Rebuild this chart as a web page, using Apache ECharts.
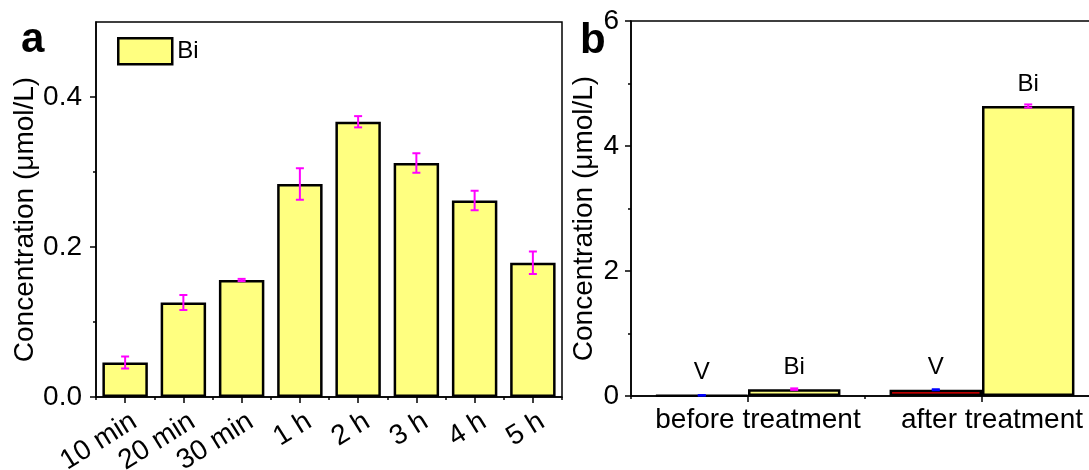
<!DOCTYPE html>
<html>
<head>
<meta charset="utf-8">
<script src="https://cdn.jsdelivr.net/npm/echarts@6/dist/echarts.min.js"></script>
<style>
  html, body { margin: 0; padding: 0; background: #fff; }
  #chart { width: 1089px; height: 470px; }
</style>
</head>
<body>
<div id="chart"></div>
<script>
// Panel a: Bi released over time
const timeLabels = ['10 min', '20 min', '30 min', '1 h', '2 h', '3 h', '4 h', '5 h'];
const biRelease = [0.046, 0.126, 0.156, 0.284, 0.367, 0.312, 0.262, 0.179];
const biReleaseErr = [0.008, 0.010, 0.0015, 0.021, 0.0075, 0.013, 0.013, 0.015];
const ticksA = [0, 0.2, 0.4];
const minorTicksA = [0.1, 0.3];

// Panel b: V and Bi before / after treatment
const stageLabels = ['before treatment', 'after treatment'];
const vConc = [0.01, 0.1];
const vConcErr = [0.005, 0.008];
const biConc = [0.11, 4.64];
const biConcErr = [0.012, 0.025];
const ticksB = [0, 2, 4, 6];
const minorTicksB = [1, 3, 5];

const FONT = '"Liberation Sans", Arial, Helvetica, sans-serif';
const YELLOW = '#ffff80';
const RED = '#ff0000';
const MAGENTA = '#ff00ff';
const BLUE = '#0000ff';
const CAT_GAP_B = 0.21;

// error bar drawn at the bar's value; slot shifts it onto one bar of a group
function errorBar(color, slot) {
  return function (params, api) {
    const i = api.value(0), v = api.value(1), e = api.value(2);
    let x = api.coord([i, v])[0];
    if (slot) {
      const band = api.size([1, 0])[0];
      const bw = band * (1 - CAT_GAP_B) / 2;
      x += slot * bw / 2;
    }
    const yTop = api.coord([i, v + e])[1];
    const yBot = api.coord([i, v - e])[1];
    const cap = 4;
    const style = { stroke: color, lineWidth: 2 };
    return {
      type: 'group',
      children: [
        { type: 'line', shape: { x1: x, y1: yTop, x2: x, y2: yBot }, style },
        { type: 'line', shape: { x1: x - cap, y1: yTop, x2: x + cap, y2: yTop }, style },
        { type: 'line', shape: { x1: x - cap, y1: yBot, x2: x + cap, y2: yBot }, style }
      ]
    };
  };
}

const axisLine = { show: true, onZero: false, lineStyle: { color: '#000', width: 1.5 } };
const labelBase = { color: '#000', fontFamily: FONT, fontSize: 28 };
const yName = 'Concentration (\u03bcmol/L)';
const barBorder = { borderColor: '#000', borderWidth: 2.5 };

const chart = echarts.init(document.getElementById('chart'), null, { renderer: 'canvas' });

chart.setOption({
  backgroundColor: '#fff',
  animation: false,
  textStyle: { fontFamily: FONT, color: '#000' },
  title: [
    { text: 'a', left: 21, top: 19, padding: 0, textStyle: { fontSize: 42, fontWeight: 'bold', color: '#000', fontFamily: FONT } },
    { text: 'b', left: 580, top: 20, padding: 0, textStyle: { fontSize: 42, fontWeight: 'bold', color: '#000', fontFamily: FONT } }
  ],
  legend: {
    data: ['Bi'],
    left: 117, top: 37, padding: 0,
    icon: 'rect', itemWidth: 54, itemHeight: 26,
    itemStyle: { color: YELLOW, borderColor: '#000', borderWidth: 2.5 },
    textStyle: { fontSize: 24, color: '#000', fontFamily: FONT },
    selectedMode: false
  },
  grid: [
    { left: 96, top: 22, width: 466, height: 375, show: true, borderColor: '#000', borderWidth: 1.5, backgroundColor: 'transparent', containLabel: false, outerBoundsMode: 'none' },
    { left: 631, top: 21, width: 468, height: 375, show: true, borderColor: '#000', borderWidth: 1.5, backgroundColor: 'transparent', containLabel: false, outerBoundsMode: 'none' }
  ],
  xAxis: [
    {
      type: 'category', gridIndex: 0, data: timeLabels, position: 'bottom',
      axisLine,
      axisTick: { show: true, alignWithLabel: true, length: 6, inside: false, lineStyle: { color: '#000', width: 1.5 } },
      axisLabel: Object.assign({ interval: 0, rotate: 32, margin: 28, padding: [0, -11, 0, 0] }, labelBase),
      splitLine: { show: false }
    },
    {
      type: 'category', gridIndex: 0, data: timeLabels, position: 'bottom',
      axisLine: { show: false },
      axisTick: { show: true, alignWithLabel: false, interval: 0, length: 3, lineStyle: { color: '#000', width: 1.5 } },
      axisLabel: { show: false },
      splitLine: { show: false }
    },
    {
      type: 'category', gridIndex: 1, data: stageLabels, position: 'bottom',
      axisLine,
      axisTick: { show: true, alignWithLabel: true, length: 6, lineStyle: { color: '#000', width: 1.5 } },
      axisLabel: Object.assign({ interval: 0, margin: 10, padding: [0, 0, 0, 20] }, labelBase),
      splitLine: { show: false }
    },
    {
      type: 'category', gridIndex: 1, data: stageLabels, position: 'bottom',
      axisLine: { show: false },
      axisTick: { show: true, alignWithLabel: false, interval: 0, length: 3, lineStyle: { color: '#000', width: 1.5 } },
      axisLabel: { show: false },
      splitLine: { show: false }
    }
  ],
  yAxis: [
    {
      type: 'value', gridIndex: 0, min: 0, max: 0.5, position: 'left',
      axisLine,
      axisTick: { show: true, length: 6, customValues: ticksA, lineStyle: { color: '#000', width: 1.5 } },
      axisLabel: Object.assign({ customValues: ticksA, margin: 14, formatter: v => v.toFixed(1) }, labelBase),
      splitLine: { show: false },
      name: yName, nameLocation: 'middle', nameGap: 57,
      nameTextStyle: { fontSize: 28, color: '#000', fontFamily: FONT, padding: [0, 20, 0, 0] }
    },
    {
      type: 'value', gridIndex: 0, min: 0, max: 0.5, position: 'left',
      axisLine: { show: false },
      axisTick: { show: true, length: 3, customValues: minorTicksA, lineStyle: { color: '#000', width: 1.5 } },
      axisLabel: { show: false },
      splitLine: { show: false }
    },
    {
      type: 'value', gridIndex: 1, min: 0, max: 6, position: 'left',
      axisLine,
      axisTick: { show: true, length: 6, customValues: ticksB, lineStyle: { color: '#000', width: 1.5 } },
      axisLabel: Object.assign({ customValues: ticksB, margin: 12, formatter: v => String(v) }, labelBase),
      splitLine: { show: false },
      name: yName, nameLocation: 'middle', nameGap: 33,
      nameTextStyle: { fontSize: 28, color: '#000', fontFamily: FONT, padding: [0, 20, 0, 0] }
    },
    {
      type: 'value', gridIndex: 1, min: 0, max: 6, position: 'left',
      axisLine: { show: false },
      axisTick: { show: true, length: 3, customValues: minorTicksB, lineStyle: { color: '#000', width: 1.5 } },
      axisLabel: { show: false },
      splitLine: { show: false }
    }
  ],
  series: [
    {
      name: 'Bi', type: 'bar', xAxisIndex: 0, yAxisIndex: 0,
      data: biRelease, barCategoryGap: '22%',
      itemStyle: Object.assign({ color: YELLOW }, barBorder),
      z: 2
    },
    {
      name: 'Bi error', type: 'custom', xAxisIndex: 0, yAxisIndex: 0,
      data: timeLabels.map((_, i) => [i, biRelease[i], biReleaseErr[i]]),
      renderItem: errorBar(MAGENTA, 0), z: 5
    },
    {
      name: 'V', type: 'bar', xAxisIndex: 2, yAxisIndex: 2,
      data: vConc, barGap: '0%', barCategoryGap: (CAT_GAP_B * 100) + '%',
      itemStyle: Object.assign({ color: RED }, barBorder),
      label: { show: true, position: 'top', distance: 10, formatter: 'V', fontSize: 24, color: '#000', fontFamily: FONT },
      z: 2
    },
    {
      name: 'Bi', type: 'bar', xAxisIndex: 2, yAxisIndex: 2,
      data: biConc, barGap: '0%', barCategoryGap: (CAT_GAP_B * 100) + '%',
      itemStyle: Object.assign({ color: YELLOW }, barBorder),
      label: { show: true, position: 'top', distance: 10, formatter: 'Bi', fontSize: 24, color: '#000', fontFamily: FONT },
      z: 2
    },
    {
      name: 'V error', type: 'custom', xAxisIndex: 2, yAxisIndex: 2,
      data: stageLabels.map((_, i) => [i, vConc[i], vConcErr[i]]),
      renderItem: errorBar(BLUE, -1), z: 5
    },
    {
      name: 'Bi error b', type: 'custom', xAxisIndex: 2, yAxisIndex: 2,
      data: stageLabels.map((_, i) => [i, biConc[i], biConcErr[i]]),
      renderItem: errorBar(MAGENTA, 1), z: 5
    }
  ]
});
</script>
</body>
</html>
